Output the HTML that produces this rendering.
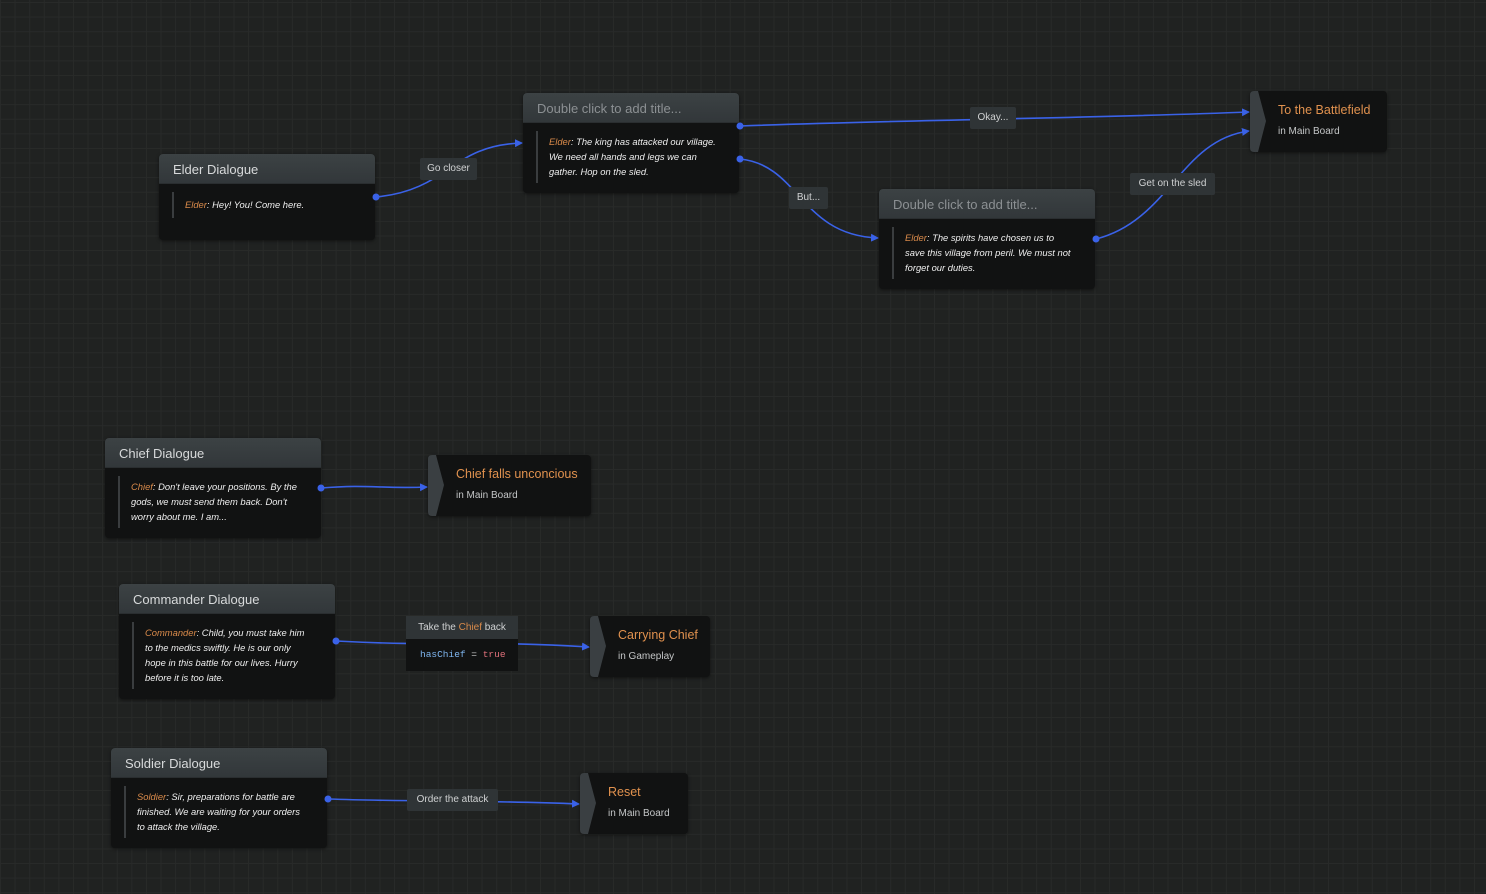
<!DOCTYPE html>
<html><head><meta charset="utf-8"><style>
*{margin:0;padding:0;box-sizing:border-box}
body{width:1486px;height:894px;overflow:hidden;background:#202221;font-family:"Liberation Sans",sans-serif;position:relative;
background-image:linear-gradient(#282a29 1px,transparent 1px),linear-gradient(90deg,#282a29 1px,transparent 1px);background-size:14.6px 14.6px;background-position:0 2px}
.n{position:absolute;background:#111212;border-radius:4px;box-shadow:0 1px 3px rgba(0,0,0,.5)}
.h{height:30px;background:linear-gradient(#3c4244,#32373a);border-radius:4px 4px 0 0;color:#d8dadb;font-size:13px;padding:8px 14px;border-bottom:1px solid #2a2e30}
.h.g{color:#8c9093}
.b{position:relative;width:180px;margin:8px 0 0 13px;padding:3px 0 4px 11px;border-left:2px solid #3a3d3f;color:#eee;font-style:italic;font-size:9.4px;line-height:15px}
.o{color:#d98a4a}
.j{position:absolute;background:#111212;border-radius:4px;box-shadow:0 1px 3px rgba(0,0,0,.5)}
.j .s{position:absolute;left:0;top:0;bottom:0;width:18px}
.j .t{position:absolute;left:28px;top:12px;color:#e0914e;font-size:12.5px;white-space:nowrap}
.j .u{position:absolute;left:28px;top:35px;color:#c4c6c7;font-size:10px;white-space:nowrap}
.l{position:absolute;background:#2f3436;color:#cfd1d2;font-size:10px;border-radius:2px;text-align:center;line-height:22px;white-space:nowrap}
svg{position:absolute;left:0;top:0}
</style></head><body>
<svg width="1486" height="894">
<defs><marker id="a" markerWidth="8" markerHeight="8" refX="7" refY="4" orient="auto" markerUnits="userSpaceOnUse"><path d="M0,0L8,4L0,8z" fill="#3a62e8"/></marker></defs>
<g fill="none" stroke="#3a62e8" stroke-width="1.6">
<path d="M376,197 C450,190 450,145 522,143" marker-end="url(#a)"/>
<path d="M740,126 C900,120 1100,118 1249,112" marker-end="url(#a)"/>
<path d="M740,159 C800,165 800,235 878,238" marker-end="url(#a)"/>
<path d="M1096,239 C1170,220 1180,140 1249,131" marker-end="url(#a)"/>
<path d="M321,488 C370,484 380,489 427,487" marker-end="url(#a)"/>
<path d="M336,641 C450,647 480,640 589,647" marker-end="url(#a)"/>
<path d="M328,799 C420,802 480,800 579,804" marker-end="url(#a)"/>
</g>
</svg>

<div class="n" style="left:159px;top:154px;width:216px;height:86px"><div class="h">Elder Dialogue</div><div class="b" style="padding:5px 0 6px 11px"><span class="o">Elder</span>: Hey! You! Come here.</div></div>
<div class="n" style="left:523px;top:93px;width:216px;height:100px"><div class="h g">Double click to add title...</div><div class="b"><span class="o">Elder</span>: The king has attacked our village. We need all hands and legs we can gather. Hop on the sled.</div></div>
<div class="n" style="left:879px;top:189px;width:216px;height:100px"><div class="h g">Double click to add title...</div><div class="b"><span class="o">Elder</span>: The spirits have chosen us to save this village from peril. We must not forget our duties.</div></div>
<div class="n" style="left:105px;top:438px;width:216px;height:100px"><div class="h">Chief Dialogue</div><div class="b"><span class="o">Chief</span>: Don't leave your positions. By the gods, we must send them back. Don't worry about me. I am...</div></div>
<div class="n" style="left:119px;top:584px;width:216px;height:115px"><div class="h">Commander Dialogue</div><div class="b"><span class="o">Commander</span>: Child, you must take him to the medics swiftly. He is our only hope in this battle for our lives. Hurry before it is too late.</div></div>
<div class="n" style="left:111px;top:748px;width:216px;height:100px"><div class="h">Soldier Dialogue</div><div class="b"><span class="o">Soldier</span>: Sir, preparations for battle are finished. We are waiting for your orders to attack the village.</div></div>

<div class="j" style="left:1250px;top:91px;width:137px;height:61px"><svg class="s" width="18" height="61"><path d="M0,4Q0,0 4,0H8L16,30L8,61H4Q0,61 0,57Z" fill="#3a3f42"/></svg><div class="t">To the Battlefield</div><div class="u">in Main Board</div></div>
<div class="j" style="left:428px;top:455px;width:163px;height:61px"><svg class="s" width="18" height="61"><path d="M0,4Q0,0 4,0H8L16,30L8,61H4Q0,61 0,57Z" fill="#3a3f42"/></svg><div class="t">Chief falls unconcious</div><div class="u">in Main Board</div></div>
<div class="j" style="left:590px;top:616px;width:120px;height:61px"><svg class="s" width="18" height="61"><path d="M0,4Q0,0 4,0H8L16,30L8,61H4Q0,61 0,57Z" fill="#3a3f42"/></svg><div class="t">Carrying Chief</div><div class="u">in Gameplay</div></div>
<div class="j" style="left:580px;top:773px;width:108px;height:61px"><svg class="s" width="18" height="61"><path d="M0,4Q0,0 4,0H8L16,30L8,61H4Q0,61 0,57Z" fill="#3a3f42"/></svg><div class="t">Reset</div><div class="u">in Main Board</div></div>

<div class="l" style="left:420px;top:158px;width:57px">Go closer</div>
<div class="l" style="left:970px;top:107px;width:46px">Okay...</div>
<div class="l" style="left:789px;top:187px;width:39px">But...</div>
<div class="l" style="left:1130px;top:173px;width:85px">Get on the sled</div>
<div class="l" style="left:407px;top:789px;width:91px">Order the attack</div>
<div style="position:absolute;left:406px;top:616px;width:112px;height:55px;background:#111212">
<div style="height:23px;background:#2f3436;color:#cfd1d2;font-size:10px;line-height:23px;text-align:center">Take the <span class="o">Chief</span> back</div>
<div style="font-family:'Liberation Mono',monospace;font-size:9.5px;color:#ccc;padding:10px 0 0 14px"><span style="color:#7fb6f0">hasChief</span> = <span style="color:#e0707a">true</span></div>
</div>
<svg width="1486" height="894"><g fill="#3a62e8">
<circle cx="376" cy="197" r="3.5"/><circle cx="740" cy="126" r="3.5"/><circle cx="740" cy="159" r="3.5"/><circle cx="1096" cy="239" r="3.5"/><circle cx="321" cy="488" r="3.5"/><circle cx="336" cy="641" r="3.5"/><circle cx="328" cy="799" r="3.5"/>
</g></svg>
</body></html>
